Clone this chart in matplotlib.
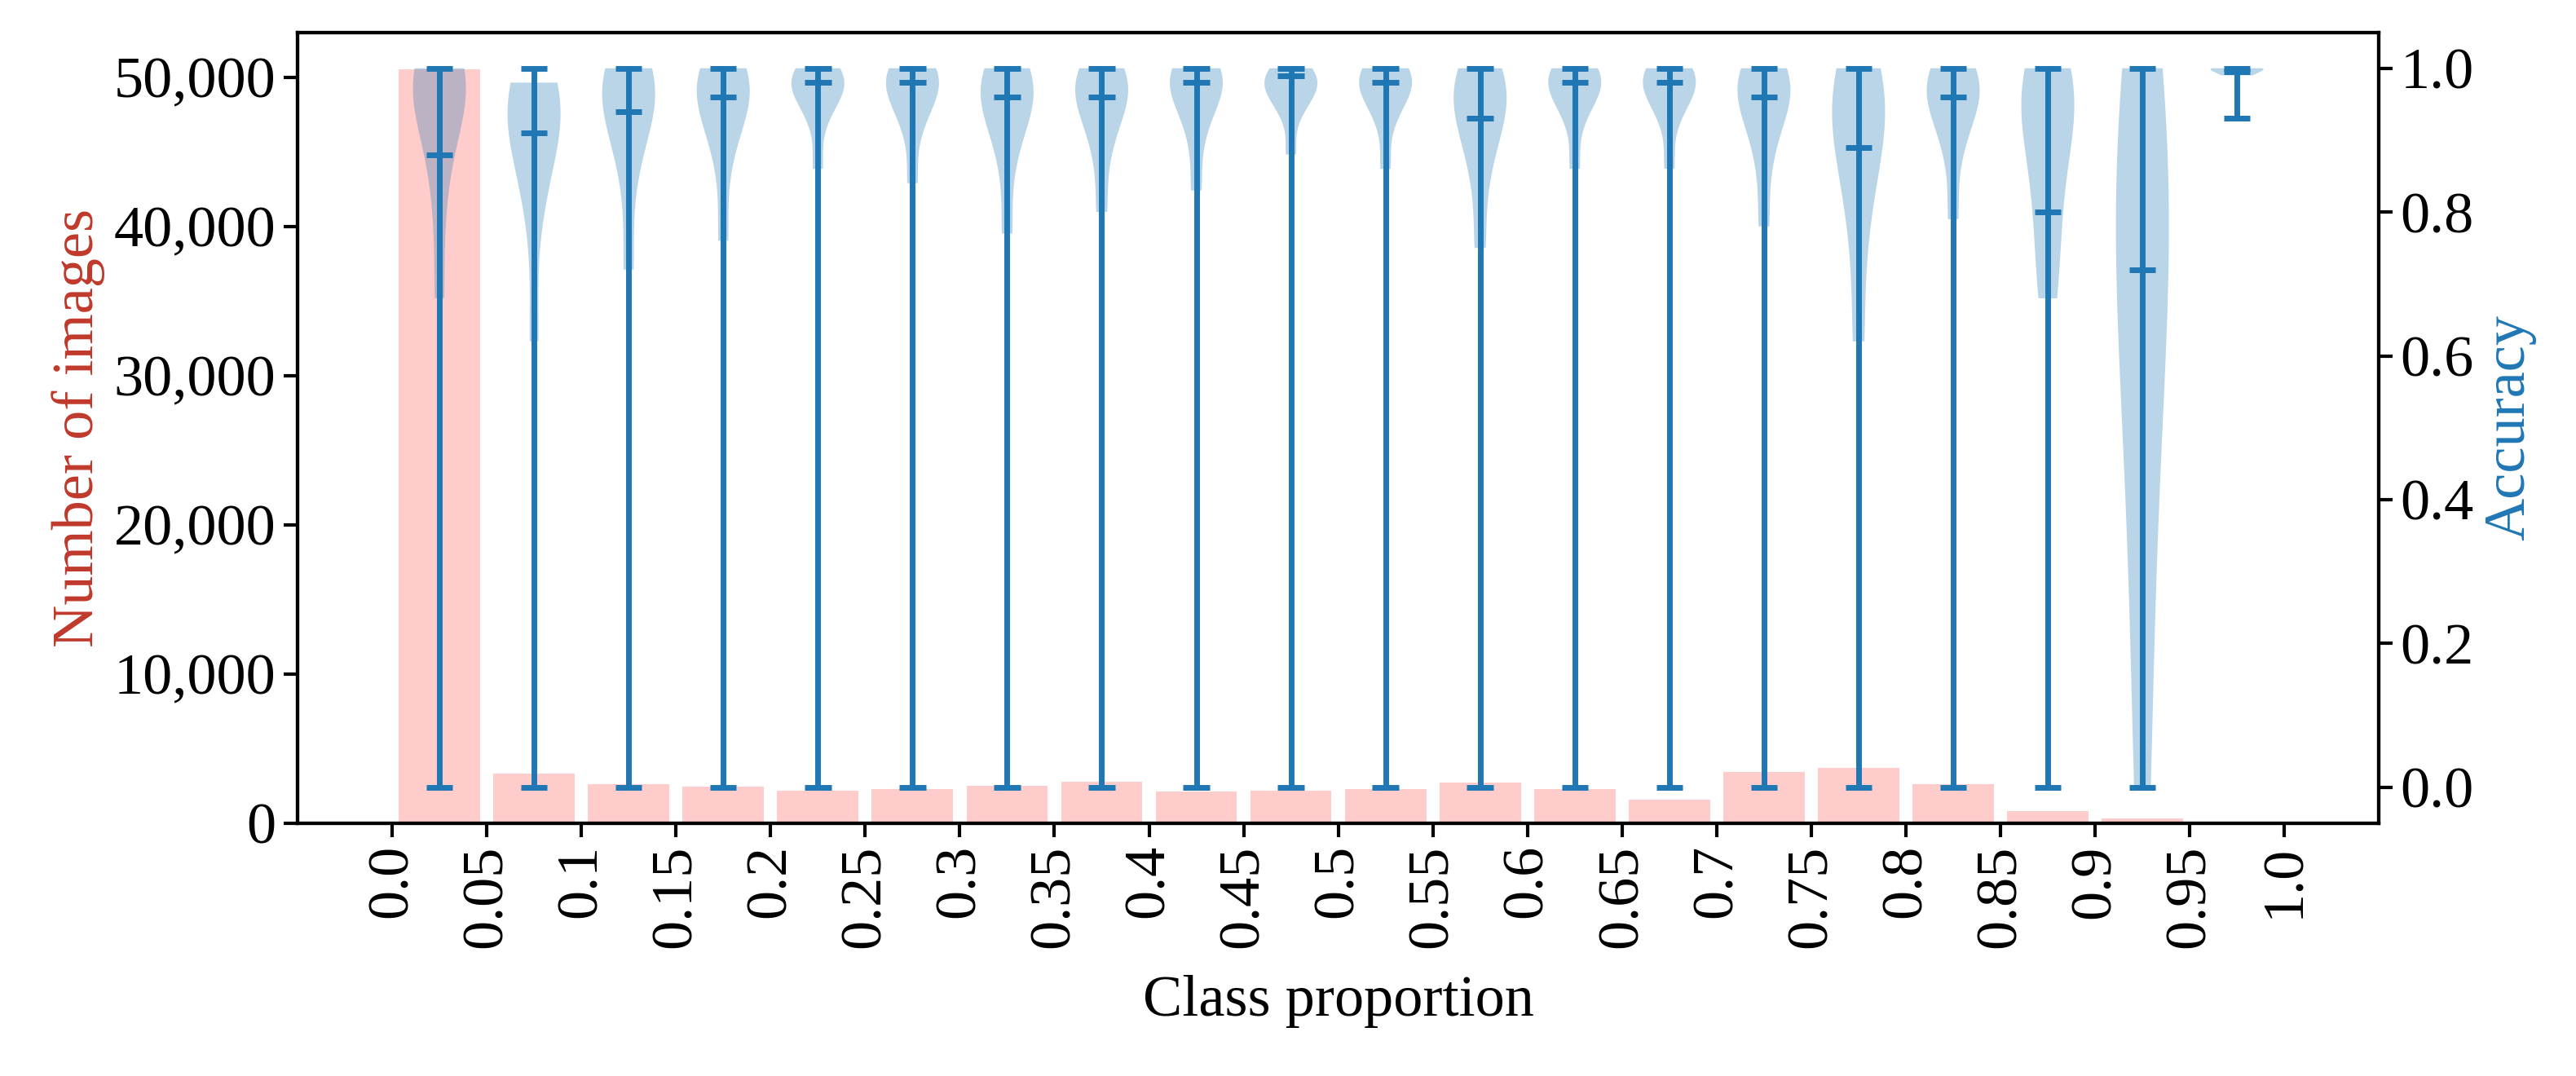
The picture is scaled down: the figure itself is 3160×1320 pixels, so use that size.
import matplotlib
matplotlib.use("Agg")
import matplotlib.pyplot as plt
from matplotlib.ticker import FuncFormatter
import numpy as np

plt.rcParams["font.family"] = ["Liberation Serif", "DejaVu Serif"]
plt.rcParams["font.size"] = 26

BIN_CENTERS = [0.025 + 0.05 * i for i in range(20)]
TICKS = ["0.0", "0.05", "0.1", "0.15", "0.2", "0.25", "0.3", "0.35", "0.4", "0.45", "0.5",
         "0.55", "0.6", "0.65", "0.7", "0.75", "0.8", "0.85", "0.9", "0.95", "1.0"]
COUNTS = [50500, 3300, 2600, 2450, 2200, 2300, 2500, 2750, 2100, 2150,
          2300, 2700, 2300, 1600, 3450, 3700, 2600, 800, 300, 50]
ACC_MEAN = [0.88, 0.91, 0.94, 0.96, 0.98, 0.98, 0.96, 0.96, 0.98, 0.99,
            0.98, 0.93, 0.98, 0.98, 0.96, 0.89, 0.96, 0.80, 0.72, 0.995]
ACC_MIN = [0.0] * 19 + [0.93]
ACC_MAX = [1.0] * 19 + [1.0]
# representative accuracy values shaping each violin body
ACC_SHAPE = [
    [0.68, 0.82, 0.9, 0.95, 0.97, 0.98, 0.99, 1.0, 1.0],
    [0.62, 0.8, 0.87, 0.91, 0.93, 0.95, 0.96, 0.97, 0.98],
    [0.72, 0.86, 0.92, 0.95, 0.97, 0.98, 0.99, 1.0],
    [0.76, 0.88, 0.93, 0.96, 0.97, 0.98, 0.99, 1.0],
    [0.86, 0.93, 0.96, 0.97, 0.98, 0.99, 0.99, 1.0],
    [0.84, 0.92, 0.95, 0.97, 0.98, 0.99, 1.0, 1.0],
    [0.77, 0.88, 0.93, 0.95, 0.97, 0.98, 0.99, 1.0],
    [0.80, 0.89, 0.93, 0.96, 0.97, 0.98, 0.99, 1.0],
    [0.83, 0.91, 0.95, 0.97, 0.98, 0.99, 1.0, 1.0],
    [0.88, 0.94, 0.96, 0.97, 0.98, 0.99, 0.99, 1.0],
    [0.86, 0.93, 0.96, 0.97, 0.98, 0.99, 1.0, 1.0],
    [0.75, 0.86, 0.91, 0.94, 0.96, 0.97, 0.99, 1.0],
    [0.86, 0.93, 0.96, 0.97, 0.98, 0.99, 1.0, 1.0],
    [0.86, 0.93, 0.96, 0.97, 0.98, 0.99, 1.0, 1.0],
    [0.78, 0.88, 0.93, 0.96, 0.97, 0.98, 0.99, 1.0],
    [0.62, 0.78, 0.86, 0.91, 0.94, 0.96, 0.98, 1.0],
    [0.79, 0.89, 0.93, 0.96, 0.97, 0.98, 0.99, 1.0],
    [0.68, 0.76, 0.84, 0.9, 0.94, 0.97, 0.99, 1.0],
    [0.0, 0.3, 0.5, 0.65, 0.75, 0.85, 0.92, 1.0],
    [0.99, 0.995, 1.0, 1.0],
]

RED = "#c0392b"
BLUE = "#1f77b4"


def kde_stats(sample, mean, lo, hi):
    s = np.asarray(sample, float)
    bw = max(s.std(ddof=1), 0.005) * len(s) ** (-1 / 5)
    coords = np.linspace(s.min(), s.max(), 100)
    vals = np.exp(-0.5 * ((coords[:, None] - s[None, :]) / bw) ** 2).sum(1)
    return dict(coords=coords, vals=vals / vals.max(), mean=mean, median=np.median(s),
                min=lo, max=hi)


fig = plt.figure(figsize=(15.8, 6.6), dpi=200)
ax = fig.add_axes([0.1155, 0.235, 0.808, 0.735])
ax.bar(BIN_CENTERS, COUNTS, width=0.043, color="#ffcccc", zorder=1)
ax.set_ylim(0, 53000)
ax.yaxis.set_major_formatter(FuncFormatter(lambda v, p: f"{int(v):,}"))
ax.set_xlim(-0.05, 1.05)
ax.set_xticks(np.linspace(0, 1, 21))
ax.set_xticklabels(TICKS, rotation=90)
ax.set_xlabel("Class proportion", labelpad=12)
ax.set_ylabel("Number of images", color=RED)

ax2 = ax.twinx()
stats = [kde_stats(s, m, lo, hi) for s, m, lo, hi in zip(ACC_SHAPE, ACC_MEAN, ACC_MIN, ACC_MAX)]
parts = ax2.violin(stats, positions=BIN_CENTERS, widths=0.028, showmeans=True,
                   showextrema=True)
for b in parts["bodies"]:
    b.set_facecolor(BLUE)
    b.set_alpha(0.3)
    b.set_edgecolor("none")
for k in ("cmeans", "cmins", "cmaxes", "cbars"):
    parts[k].set_color(BLUE)
    parts[k].set_linewidth(2.5)
ax2.set_ylim(-0.05, 1.05)
ax2.set_ylabel("Accuracy", color=BLUE)

for a in (ax, ax2):
    for sp in a.spines.values():
        sp.set_linewidth(1.5)
    a.tick_params(width=1.5, length=6)

fig.savefig("out.png", dpi=200)
